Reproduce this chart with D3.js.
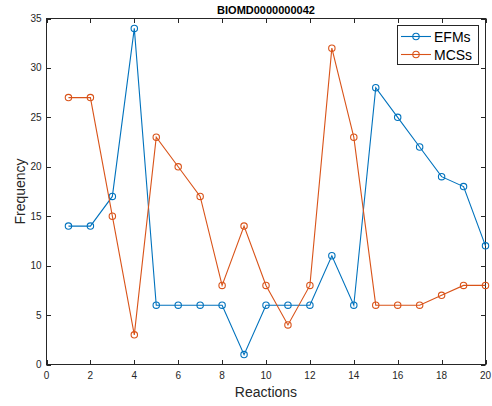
<!DOCTYPE html>
<html><head><meta charset="utf-8">
<script src="https://cdn.jsdelivr.net/npm/d3@7"></script>
<style>body{margin:0;background:#fff;}svg{display:block;font-family:"Liberation Sans",Arial,Helvetica,sans-serif;}</style>
</head><body><svg id="c" width="492" height="406"></svg>
<script>
const reactions = d3.range(1, 21);
const efms = [14,14,17,34,6,6,6,6,1,6,6,6,11,6,28,25,22,19,18,12];
const mcss = [27,27,15,3,23,20,17,8,14,8,4,8,32,23,6,6,6,7,8,8];
const xTicks = [0,2,4,6,8,10,12,14,16,18,20];
const yTicks = [0,5,10,15,20,25,30,35];
const seriesNames = ["EFMs","MCSs"];
const colors = ["#0072BD","#D95319"];
const title = "BIOMD0000000042";

const svg = d3.select("#c");
const L=46.5, R=485.5, T=18.5, B=364.5;
const x = d3.scaleLinear().domain([0,20]).range([L,R]);
const y = d3.scaleLinear().domain([0,35]).range([B,T]);
const ax = "#262626";

svg.append("rect").attr("x",L).attr("y",T).attr("width",R-L).attr("height",B-T)
  .attr("fill","#fff").attr("stroke",ax).attr("stroke-width",1);

const tl = 4.5;
const g = svg.append("g");
xTicks.forEach(t=>{
  const px = Math.round(x(t))+0.5;
  g.append("line").attr("x1",px).attr("x2",px).attr("y1",B).attr("y2",B-tl).attr("stroke",ax);
  g.append("line").attr("x1",px).attr("x2",px).attr("y1",T).attr("y2",T+tl).attr("stroke",ax);
  g.append("text").attr("x",x(t)).attr("y",B+14).attr("text-anchor","middle")
    .attr("font-size",10).attr("fill",ax).text(t);
});
yTicks.forEach(t=>{
  const py = Math.round(y(t))+0.5;
  g.append("line").attr("x1",L).attr("x2",L+tl).attr("y1",py).attr("y2",py).attr("stroke",ax);
  g.append("line").attr("x1",R).attr("x2",R-tl).attr("y1",py).attr("y2",py).attr("stroke",ax);
  g.append("text").attr("x",L-5).attr("y",y(t)+3.5).attr("text-anchor","end")
    .attr("font-size",10).attr("fill",ax).text(t);
});

const line = d3.line().x((d,i)=>x(reactions[i])).y(d=>y(d));
[efms,mcss].forEach((s,k)=>{
  svg.append("path").datum(s).attr("d",line).attr("fill","none")
    .attr("stroke",colors[k]).attr("stroke-width",1.1);
  svg.selectAll(null).data(s).enter().append("circle")
    .attr("cx",(d,i)=>x(reactions[i])).attr("cy",d=>y(d)).attr("r",3.2)
    .attr("fill","none").attr("stroke",colors[k]).attr("stroke-width",1.1);
});

svg.append("text").attr("x",(L+R)/2).attr("y",14).attr("text-anchor","middle")
  .attr("font-size",11).attr("font-weight","bold").attr("fill","#000").text(title);
svg.append("text").attr("x",(L+R)/2).attr("y",397).attr("text-anchor","middle")
  .attr("font-size",14).attr("fill",ax).text("Reactions");
svg.append("text").attr("transform",`translate(25,${(T+B)/2}) rotate(-90)`).attr("text-anchor","middle")
  .attr("font-size",14).attr("fill",ax).text("Frequency");

const lg = svg.append("g");
lg.append("rect").attr("x",397.5).attr("y",25.5).attr("width",81).attr("height",39)
  .attr("fill","#fff").attr("stroke",ax).attr("stroke-width",1);
seriesNames.forEach((n,k)=>{
  const yy = 36.5 + k*18;
  lg.append("line").attr("x1",401).attr("x2",431).attr("y1",yy).attr("y2",yy)
    .attr("stroke",colors[k]).attr("stroke-width",1.1);
  lg.append("circle").attr("cx",416).attr("cy",yy).attr("r",3.2).attr("fill","none")
    .attr("stroke",colors[k]).attr("stroke-width",1.1);
  lg.append("text").attr("x",434).attr("y",yy+5).attr("font-size",14).attr("fill","#000").text(n);
});
</script></body></html>
